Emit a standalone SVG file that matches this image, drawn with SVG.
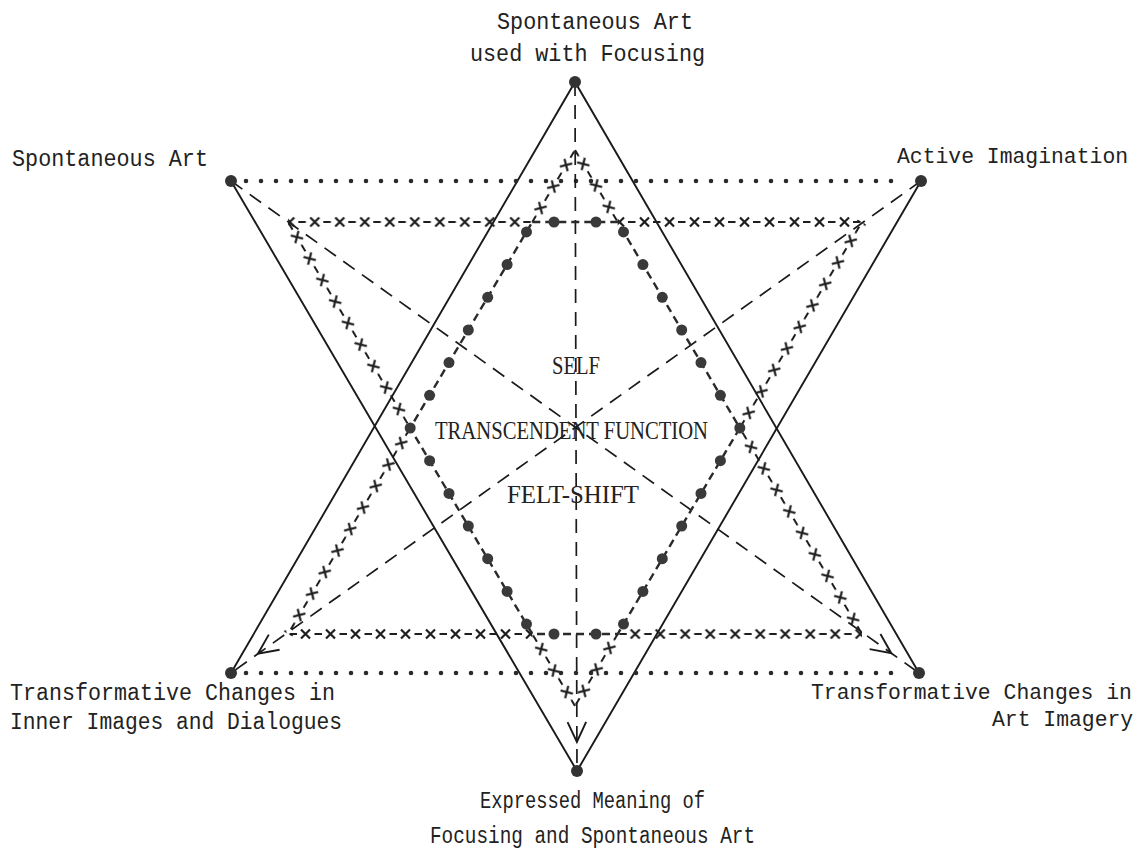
<svg xmlns="http://www.w3.org/2000/svg" width="1147" height="853" viewBox="0 0 1147 853">
<style>
.lab{font-family:"Liberation Mono",monospace;font-size:23px;fill:#222}
.labs{font-family:"Liberation Mono",monospace;font-size:21.4px;fill:#222}
.ctr{font-family:"Liberation Serif",serif;font-size:26px;fill:#222}
.node{fill:#333}
.solid{stroke:#1a1a1a;stroke-width:1.9;fill:none}
.dashed{stroke:#1a1a1a;stroke-width:1.7;fill:none;stroke-dasharray:14 9}
.dotted{stroke:#2a2a2a;stroke-width:4.6;stroke-linecap:round;stroke-dasharray:0 15;fill:none}
.dd{stroke:#2a2a2a;stroke-width:2.4;fill:none;stroke-dasharray:8 5}
.bigdot{fill:#3a3a3a}
</style>
<defs>
<pattern id="xp" patternUnits="userSpaceOnUse" x="0" y="-7" width="25" height="14">
<path d="M1.5 7H9M13 2.5L22 11.5M13 11.5L22 2.5" stroke="#1e1e1e" stroke-width="2.2" fill="none"/>
</pattern>
<marker id="av" markerUnits="userSpaceOnUse" viewBox="-24 -12 26 24" refX="0" refY="0" markerWidth="26" markerHeight="24" orient="auto">
<path d="M-20 -9.3L0 0L-20 9.3" stroke="#1a1a1a" stroke-width="1.9" fill="none"/>
</marker>
</defs>

<g id="connectors">
<path class="solid" d="M231 673L575 82L919 673"/>
<path class="solid" d="M231 181L577 771L921 181"/>
<line class="dotted" x1="246" y1="181" x2="906" y2="181"/>
<line class="dotted" x1="246" y1="673" x2="904" y2="673"/>
<path class="dashed" d="M231 181L891.3 653.2L919 673" marker-mid="url(#av)"/>
<path class="dashed" d="M921 181L257.9 653.8L231 673" marker-mid="url(#av)"/>
<path class="dashed" d="M575 82L576.9 742L577 771" marker-mid="url(#av)"/>
<g fill="url(#xp)">
<rect x="0" y="-7" width="83.7" height="14" transform="translate(575 150) rotate(120.67)"/>
<rect x="0" y="-7" width="244.3" height="14" transform="translate(532.3 222) rotate(180)"/>
<rect x="0" y="-7" width="239.5" height="14" transform="translate(288 222) rotate(59.33)"/>
<rect x="0" y="-7" width="239.5" height="14" transform="translate(410.2 428) rotate(120.67)"/>
<rect x="0" y="-7" width="244.3" height="14" transform="translate(288 634)"/>
<rect x="0" y="-7" width="83.7" height="14" transform="translate(532.3 634) rotate(59.33)"/>
<rect x="0" y="-7" width="83.7" height="14" transform="translate(575 706) rotate(-59.33)"/>
<rect x="0" y="-7" width="244.3" height="14" transform="translate(617.7 634)"/>
<rect x="0" y="-7" width="239.5" height="14" transform="translate(862 634) rotate(-120.67)"/>
<rect x="0" y="-7" width="239.5" height="14" transform="translate(739.8 428) rotate(-59.33)"/>
<rect x="0" y="-7" width="244.3" height="14" transform="translate(862 222) rotate(180)"/>
<rect x="0" y="-7" width="83.7" height="14" transform="translate(617.7 222) rotate(-120.67)"/>
</g>
<polygon class="dd" points="532.3,222 617.7,222 739.8,428 617.7,634 532.3,634 410.2,428"/>
<g class="bigdot">
<circle cx="554" cy="222" r="5.5"/><circle cx="596" cy="222" r="5.5"/>
<circle cx="554" cy="634" r="5.5"/><circle cx="596" cy="634" r="5.5"/>
<circle cx="410.2" cy="428" r="5.5"/><circle cx="739.8" cy="428" r="5.5"/>
<circle cx="429.6" cy="395.3" r="5.5"/><circle cx="449" cy="362.6" r="5.5"/><circle cx="468.3" cy="330" r="5.5"/><circle cx="487.7" cy="297.3" r="5.5"/><circle cx="507.1" cy="264.6" r="5.5"/><circle cx="526.5" cy="231.9" r="5.5"/>
<circle cx="429.6" cy="460.7" r="5.5"/><circle cx="449" cy="493.4" r="5.5"/><circle cx="468.3" cy="526" r="5.5"/><circle cx="487.7" cy="558.7" r="5.5"/><circle cx="507.1" cy="591.4" r="5.5"/><circle cx="526.5" cy="624.1" r="5.5"/>
<circle cx="720.4" cy="395.3" r="5.5"/><circle cx="701" cy="362.6" r="5.5"/><circle cx="681.7" cy="330" r="5.5"/><circle cx="662.3" cy="297.3" r="5.5"/><circle cx="642.9" cy="264.6" r="5.5"/><circle cx="623.5" cy="231.9" r="5.5"/>
<circle cx="720.4" cy="460.7" r="5.5"/><circle cx="701" cy="493.4" r="5.5"/><circle cx="681.7" cy="526" r="5.5"/><circle cx="662.3" cy="558.7" r="5.5"/><circle cx="642.9" cy="591.4" r="5.5"/><circle cx="623.5" cy="624.1" r="5.5"/>
</g>
</g>

<g id="node-top">
<circle class="node" cx="575" cy="82" r="6"/>
<text class="lab" x="497" y="29" textLength="196" lengthAdjust="spacingAndGlyphs">Spontaneous Art</text>
<text class="lab" x="470" y="61" textLength="235" lengthAdjust="spacingAndGlyphs">used with Focusing</text>
</g>
<g id="node-top-left">
<circle class="node" cx="231" cy="181" r="6"/>
<text class="lab" x="12" y="166" textLength="196" lengthAdjust="spacingAndGlyphs">Spontaneous Art</text>
</g>
<g id="node-top-right">
<circle class="node" cx="921" cy="181" r="6"/>
<text class="labs" x="897" y="163">Active Imagination</text>
</g>
<g id="node-bottom-left">
<circle class="node" cx="231" cy="673" r="6"/>
<text class="lab" x="10" y="700" textLength="325" lengthAdjust="spacingAndGlyphs">Transformative Changes in</text>
<text class="lab" x="10" y="729" textLength="332" lengthAdjust="spacingAndGlyphs">Inner Images and Dialogues</text>
</g>
<g id="node-bottom-right">
<circle class="node" cx="919" cy="673" r="6"/>
<text class="labs" x="811" y="699">Transformative Changes in</text>
<text class="labs" x="992" y="726">Art Imagery</text>
</g>
<g id="node-bottom">
<circle class="node" cx="577" cy="771" r="6"/>
<text class="lab" x="480" y="808" textLength="225" lengthAdjust="spacingAndGlyphs">Expressed Meaning of</text>
<text class="lab" x="430" y="843" textLength="325" lengthAdjust="spacingAndGlyphs">Focusing and Spontaneous Art</text>
</g>
<g id="center-labels">
<text class="ctr" x="552" y="374" textLength="48" lengthAdjust="spacingAndGlyphs">SELF</text>
<text class="ctr" x="435" y="439" textLength="273" lengthAdjust="spacingAndGlyphs">TRANSCENDENT FUNCTION</text>
<text class="ctr" x="507" y="503" textLength="132" lengthAdjust="spacingAndGlyphs">FELT-SHIFT</text>
</g>
</svg>
